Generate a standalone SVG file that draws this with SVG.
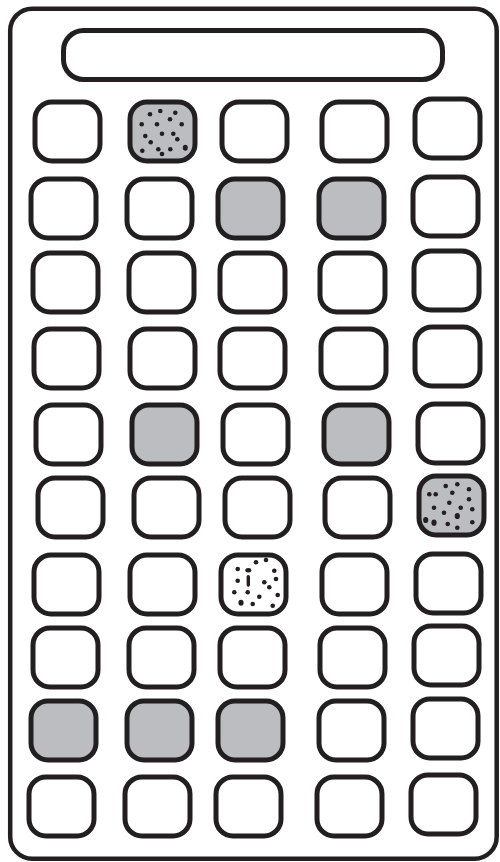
<svg xmlns="http://www.w3.org/2000/svg" width="500" height="862" viewBox="0 0 500 862">
<style>
.frame{fill:#fff;stroke:#231f20;stroke-width:4.5}
.k{fill:#fff;stroke:#231f20;stroke-width:5}
.g{fill:#bcbdc0}
.d{fill:#231f20}
</style>
<rect width="500" height="862" fill="#fff"/>
<g id="body"><rect class="frame" x="10.2" y="8.7" width="486.5" height="850" rx="22"/></g>
<g id="display"><rect class="k" x="63.5" y="30.5" width="379" height="49" rx="20"/></g>
<g id="row1">
<g id="k1-1"><rect class="k" x="35" y="102" width="65" height="59" rx="17"/></g>
<g id="k1-2"><rect class="k g" x="130" y="102" width="65" height="59" rx="17"/>
<g class="d"><circle cx="150" cy="114.3" r="2.3"/><circle cx="160.3" cy="111" r="2.3"/><circle cx="175.3" cy="112.7" r="2.3"/><circle cx="141.7" cy="124.3" r="2.3"/><circle cx="157" cy="124.3" r="2.3"/><circle cx="170" cy="119.3" r="2.3"/><circle cx="181.7" cy="124.3" r="2.3"/><circle cx="145.3" cy="136" r="2.3"/><circle cx="162" cy="133.7" r="2.3"/><circle cx="173.3" cy="133.7" r="2.3"/><circle cx="177.3" cy="139.3" r="2.3"/><circle cx="150.7" cy="142.3" r="2.3"/><circle cx="142.3" cy="150.7" r="2.3"/><circle cx="158.3" cy="149.3" r="2.3"/><circle cx="162" cy="154" r="2.3"/><circle cx="170.3" cy="149.3" r="2.3"/><ellipse cx="185.3" cy="147.7" rx="2.5" ry="3"/></g></g>
<g id="k1-3"><rect class="k" x="222" y="102" width="65" height="59" rx="17"/></g>
<g id="k1-4"><rect class="k" x="322" y="102" width="65" height="59" rx="17"/></g>
<g id="k1-5"><rect class="k" x="415" y="99" width="65" height="59" rx="17"/></g>
</g>
<g id="row2">
<g id="k2-1"><rect class="k" x="31" y="179" width="65" height="59" rx="17"/></g>
<g id="k2-2"><rect class="k" x="127" y="179" width="65" height="59" rx="17"/></g>
<g id="k2-3"><rect class="k g" x="218" y="179" width="65" height="59" rx="17"/></g>
<g id="k2-4"><rect class="k g" x="319" y="179" width="65" height="59" rx="17"/></g>
<g id="k2-5"><rect class="k" x="413" y="177" width="65" height="59" rx="17"/></g>
</g>
<g id="row3">
<g id="k3-1"><rect class="k" x="33" y="253" width="65" height="59" rx="17"/></g>
<g id="k3-2"><rect class="k" x="129" y="253" width="65" height="59" rx="17"/></g>
<g id="k3-3"><rect class="k" x="220" y="253" width="65" height="59" rx="17"/></g>
<g id="k3-4"><rect class="k" x="320" y="253" width="65" height="59" rx="17"/></g>
<g id="k3-5"><rect class="k" x="414" y="251" width="65" height="59" rx="17"/></g>
</g>
<g id="row4">
<g id="k4-1"><rect class="k" x="34" y="329" width="65" height="59" rx="17"/></g>
<g id="k4-2"><rect class="k" x="130" y="329" width="65" height="59" rx="17"/></g>
<g id="k4-3"><rect class="k" x="220" y="329" width="65" height="59" rx="17"/></g>
<g id="k4-4"><rect class="k" x="321" y="329" width="65" height="59" rx="17"/></g>
<g id="k4-5"><rect class="k" x="415" y="327" width="65" height="59" rx="17"/></g>
</g>
<g id="row5">
<g id="k5-1"><rect class="k" x="36" y="405" width="65" height="59" rx="17"/></g>
<g id="k5-2"><rect class="k g" x="132" y="405" width="65" height="59" rx="17"/></g>
<g id="k5-3"><rect class="k" x="223" y="405" width="65" height="59" rx="17"/></g>
<g id="k5-4"><rect class="k g" x="324" y="405" width="65" height="59" rx="17"/></g>
<g id="k5-5"><rect class="k" x="418" y="404" width="65" height="59" rx="17"/></g>
</g>
<g id="row6">
<g id="k6-1"><rect class="k" x="38" y="478" width="65" height="59" rx="17"/></g>
<g id="k6-2"><rect class="k" x="134" y="478" width="65" height="59" rx="17"/></g>
<g id="k6-3"><rect class="k" x="225" y="478" width="65" height="59" rx="17"/></g>
<g id="k6-4"><rect class="k" x="325" y="478" width="65" height="59" rx="17"/></g>
<g id="k6-5"><rect class="k g" x="419" y="476" width="65" height="59" rx="17"/>
<g class="d"><circle cx="445.7" cy="486" r="2.3"/><circle cx="457.3" cy="484.3" r="2.3"/><circle cx="469" cy="489.3" r="2.3"/><circle cx="429.3" cy="494.3" r="2.3"/><circle cx="435.7" cy="494.3" r="2.3"/><circle cx="452.3" cy="492.7" r="2.3"/><circle cx="469" cy="499.3" r="2.3"/><circle cx="449.3" cy="502.7" r="2.3"/><circle cx="434" cy="507.7" r="2.3"/><circle cx="460.7" cy="507.7" r="2.3"/><circle cx="472.3" cy="509.3" r="2.3"/><circle cx="444" cy="512.7" r="2.3"/><ellipse cx="457.3" cy="516" rx="2.6" ry="3.1"/><ellipse cx="425.7" cy="520" rx="2.6" ry="3.1"/><ellipse cx="434" cy="522.7" rx="2.6" ry="3.1"/><circle cx="447.7" cy="524" r="2.3"/><circle cx="457.3" cy="527.7" r="2.3"/><circle cx="472.3" cy="522.3" r="2.3"/></g></g>
</g>
<g id="row7">
<g id="k7-1"><rect class="k" x="34" y="555" width="65" height="59" rx="17"/></g>
<g id="k7-2"><rect class="k" x="130" y="555" width="65" height="59" rx="17"/></g>
<g id="k7-3"><rect class="k" x="221" y="555" width="65" height="59" rx="17"/>
<g class="d"><circle cx="256" cy="562.3" r="2.3"/><circle cx="266" cy="560" r="2.3"/><circle cx="237.7" cy="569" r="2.3"/><ellipse cx="248.3" cy="570.3" rx="3" ry="2.2"/><circle cx="274.3" cy="570.7" r="2.3"/><rect x="246.6" y="575" width="3.4" height="11.7" rx="1.7"/><circle cx="237.7" cy="580.7" r="2.3"/><circle cx="264.3" cy="582.3" r="2.3"/><circle cx="276" cy="579" r="2.3"/><circle cx="269.3" cy="587.3" r="2.3"/><circle cx="234.3" cy="592.3" r="2.3"/><circle cx="247.7" cy="592.3" r="2.3"/><circle cx="259.3" cy="596.7" r="2.3"/><circle cx="277.7" cy="595" r="2.3"/><ellipse cx="241" cy="602.7" rx="2.6" ry="3"/><circle cx="252.7" cy="604" r="2.3"/><circle cx="272.7" cy="605.7" r="2.3"/></g></g>
<g id="k7-4"><rect class="k" x="322" y="555" width="65" height="59" rx="17"/></g>
<g id="k7-5"><rect class="k" x="416" y="554" width="65" height="59" rx="17"/></g>
</g>
<g id="row8">
<g id="k8-1"><rect class="k" x="33" y="628" width="65" height="59" rx="17"/></g>
<g id="k8-2"><rect class="k" x="129" y="628" width="65" height="59" rx="17"/></g>
<g id="k8-3"><rect class="k" x="220" y="628" width="65" height="59" rx="17"/></g>
<g id="k8-4"><rect class="k" x="320" y="628" width="65" height="59" rx="17"/></g>
<g id="k8-5"><rect class="k" x="414" y="626" width="65" height="59" rx="17"/></g>
</g>
<g id="row9">
<g id="k9-1"><rect class="k g" x="31" y="701" width="65" height="59" rx="17"/></g>
<g id="k9-2"><rect class="k g" x="127" y="701" width="65" height="59" rx="17"/></g>
<g id="k9-3"><rect class="k g" x="218" y="701" width="65" height="59" rx="17"/></g>
<g id="k9-4"><rect class="k" x="319" y="701" width="65" height="59" rx="17"/></g>
<g id="k9-5"><rect class="k" x="413" y="699" width="65" height="59" rx="17"/></g>
</g>
<g id="row10">
<g id="k10-1"><rect class="k" x="29" y="777" width="65" height="59" rx="17"/></g>
<g id="k10-2"><rect class="k" x="125" y="777" width="65" height="59" rx="17"/></g>
<g id="k10-3"><rect class="k" x="216" y="777" width="65" height="59" rx="17"/></g>
<g id="k10-4"><rect class="k" x="317" y="777" width="65" height="59" rx="17"/></g>
<g id="k10-5"><rect class="k" x="411" y="775" width="65" height="59" rx="17"/></g>
</g>
<g id="connectors"/>
</svg>
